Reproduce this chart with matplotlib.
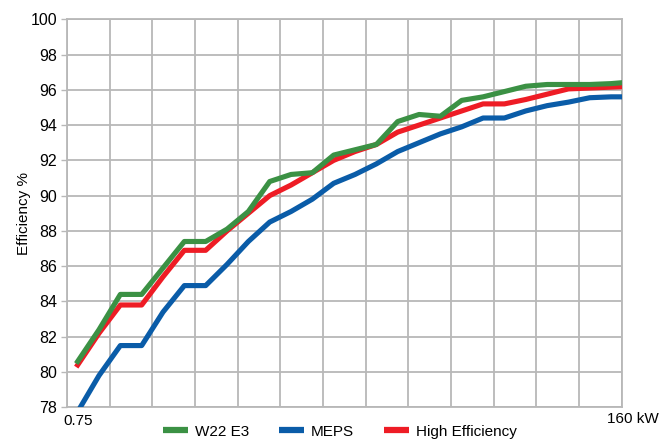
import matplotlib
matplotlib.use("Agg")
import matplotlib.pyplot as plt
from matplotlib import font_manager as fm
import numpy as np

# ---- data ----
series_names = ["W22 E3", "MEPS", "High Efficiency"]
w22_e3 = [80.6, 82.4, 84.4, 84.4, 85.9, 87.4, 87.4, 88.1, 89.1, 90.8, 91.2, 91.3, 92.3,
          92.6, 92.9, 94.2, 94.6, 94.5, 95.4, 95.6, 95.9, 96.2, 96.3, 96.3, 96.3, 96.35, 96.45]
meps = [77.75, 79.8, 81.5, 81.5, 83.4, 84.9, 84.9, 86.1, 87.4, 88.5, 89.1, 89.8, 90.7,
        91.2, 91.8, 92.5, 93.0, 93.5, 93.9, 94.4, 94.4, 94.8, 95.1, 95.3, 95.55, 95.6, 95.6]
high_eff = [80.4, 82.2, 83.8, 83.8, 85.4, 86.9, 86.9, 88.0, 89.0, 90.0, 90.6, 91.3, 92.0,
            92.5, 92.9, 93.6, 94.0, 94.4, 94.8, 95.2, 95.2, 95.45, 95.75, 96.05, 96.1, 96.15, 96.2]
first_label = "0.75"
last_label = "160 kW"
y_ticks = list(range(78, 101, 2))

# ---- font ----
names = {f.name for f in fm.fontManager.ttflist}
family = "Liberation Sans Narrow" if "Liberation Sans Narrow" in names else "Liberation Sans"
plt.rcParams["font.family"] = [family, "DejaVu Sans"]

colors = {"W22 E3": "#3b9144", "MEPS": "#0a5ca8", "High Efficiency": "#ee1c25"}

fig = plt.figure(figsize=(6.70, 4.41), dpi=100)
ax = fig.add_axes([0.1, 0.0764, 0.828, 0.88])

n = len(w22_e3)
x = np.arange(n)
lw = 3.7
l_meps, = ax.plot(x, meps, color=colors["MEPS"], lw=lw, solid_joinstyle="round", zorder=3)
l_he, = ax.plot(x, high_eff, color=colors["High Efficiency"], lw=lw, solid_joinstyle="round", zorder=4)
l_w22, = ax.plot(x, w22_e3, color=colors["W22 E3"], lw=lw, solid_joinstyle="round", zorder=5)

ax.set_xlim(-0.5, n - 1.5)
ax.set_ylim(78, 100)
ax.set_yticks(y_ticks)
ax.set_yticklabels([str(v) for v in y_ticks], fontsize=11.5)
grid_x = np.arange(-0.5, n - 1.4, 2)
ax.set_xticks(grid_x)
ax.set_xticklabels([])
ax.tick_params(axis="x", length=0)
ax.tick_params(axis="y", length=4, width=1, color="#b8b8b8", pad=3)
ax.grid(True, color="#b8b8b8", lw=1.3, zorder=0)
ax.set_axisbelow(True)
for s in ax.spines.values():
    s.set_color("#b8b8b8")
    s.set_linewidth(1.3)

fig.text(24 / 670, 0.517, "Efficiency %", rotation=90, ha="center", va="center", fontsize=11)

ax.text(0, -0.018, first_label, transform=ax.get_xaxis_transform(), ha="center", va="top", fontsize=11)
ax.text(n - 1, -0.012, last_label, transform=ax.get_xaxis_transform(), ha="center", va="top",
        fontsize=11, clip_on=False)

leg = fig.legend([l_w22, l_meps, l_he], series_names, loc="center", bbox_to_anchor=(0.507, 0.021),
                 ncol=3, frameon=False, fontsize=11, handlelength=1.65, handletextpad=0.45,
                 columnspacing=1.95, borderaxespad=0, borderpad=0)
for h in leg.get_lines():
    h.set_linewidth(4.5)
    h.set_solid_capstyle("butt")

fig.savefig("out.png", dpi=100)
